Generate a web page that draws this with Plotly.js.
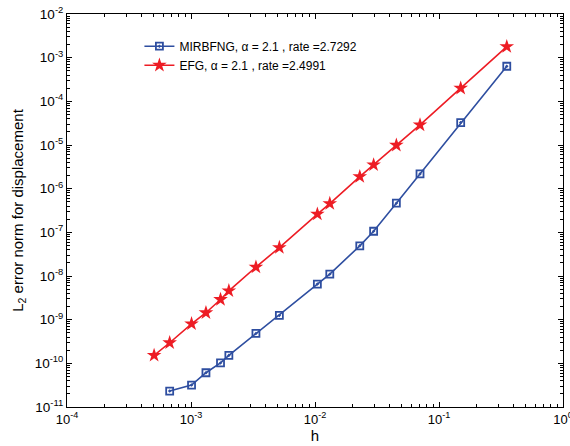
<!DOCTYPE html>
<html>
<head>
<meta charset="utf-8">
<script src="https://cdn.plot.ly/plotly-3.0.1.min.js"></script>
<style>html,body{margin:0;padding:0;background:#fff;}#chart{width:570px;height:446px;}</style>
</head>
<body>
<div id="chart"></div>
<script>
// Data
const hEFG = [5.04e-4, 6.73e-4, 1.01e-3, 1.32e-3, 1.73e-3, 2.02e-3, 3.34e-3, 5.16e-3, 0.01045, 0.01316, 0.02297, 0.0297, 0.0453, 0.0703, 0.1496, 0.352];
const errEFG = [1.52e-10, 2.96e-10, 8.05e-10, 1.44e-9, 2.90e-9, 4.58e-9, 1.60e-8, 4.49e-8, 2.61e-7, 4.56e-7, 1.89e-6, 3.51e-6, 9.89e-6, 2.88e-5, 2.0e-4, 1.79e-3];
const hMIR = [6.73e-4, 1.01e-3, 1.32e-3, 1.73e-3, 2.02e-3, 3.34e-3, 5.16e-3, 0.01045, 0.01316, 0.02297, 0.0297, 0.0453, 0.0703, 0.1496, 0.352];
const errMIR = [2.32e-11, 3.18e-11, 6.09e-11, 1.02e-10, 1.52e-10, 4.83e-10, 1.25e-9, 6.53e-9, 1.10e-8, 4.91e-8, 1.06e-7, 4.66e-7, 2.18e-6, 3.26e-5, 6.36e-4];
const seriesNames = ["MIRBFNG, α = 2.1 , rate =2.7292", "EFG, α = 2.1 , rate =2.4991"];
const xTickVals = [1e-4, 1e-3, 1e-2, 1e-1, 1];
const xTickText = ["10<sup>-4</sup>", "10<sup>-3</sup>", "10<sup>-2</sup>", "10<sup>-1</sup>", "10<sup>0</sup>"];
const yTickVals = [1e-11, 1e-10, 1e-9, 1e-8, 1e-7, 1e-6, 1e-5, 1e-4, 1e-3, 1e-2];
const yTickText = ["10<sup>-11</sup>", "10<sup>-10</sup>", "10<sup>-9</sup>", "10<sup>-8</sup>", "10<sup>-7</sup>", "10<sup>-6</sup>", "10<sup>-5</sup>", "10<sup>-4</sup>", "10<sup>-3</sup>", "10<sup>-2</sup>"];
const xTitle = "h";
const yTitle = "L<sub>2</sub> error norm for displacement";

const blue = "rgb(46,78,160)";
const red = "rgb(237,28,36)";
const font = "Liberation Sans, Arial, sans-serif";

const traces = [
  {
    x: hMIR, y: errMIR, name: seriesNames[0], type: "scatter", mode: "lines+markers",
    line: {color: blue, width: 1.6},
    marker: {symbol: "square-open-dot", size: 7, color: blue, line: {width: 1.8, color: blue}}
  },
  {
    x: hEFG, y: errEFG, name: seriesNames[1], type: "scatter", mode: "lines+markers",
    line: {color: red, width: 1.6},
    marker: {symbol: "star", size: 11, color: red, line: {width: 0}}
  }
];

const axisCommon = {
  type: "log", showgrid: false, zeroline: false,
  showline: true, linecolor: "#000", linewidth: 1, mirror: "allticks",
  ticks: "inside", ticklen: 5, tickcolor: "#000", tickwidth: 1,
  tickmode: "array", ticklabeloverflow: "allow",
  minor: {ticks: "inside", ticklen: 3, tickcolor: "#000", showgrid: false, dtick: "D1"}
};

const layout = {
  width: 570, height: 446,
  margin: {l: 67, r: 7, t: 14, b: 39},
  paper_bgcolor: "#fff", plot_bgcolor: "#fff",
  showlegend: true,
  legend: {
    x: 0.146, y: 0.955, xanchor: "left", yanchor: "top",
    bgcolor: "rgba(0,0,0,0)", borderwidth: 0,
    font: {family: font, size: 12, color: "#000"},
    tracegroupgap: 0
  },
  xaxis: Object.assign({}, axisCommon, {
    range: [-4, 0], tickvals: xTickVals, ticktext: xTickText,
    tickfont: {family: font, size: 13, color: "#000"},
    title: {text: xTitle, standoff: 0, font: {family: font, size: 15, color: "#000"}}
  }),
  yaxis: Object.assign({}, axisCommon, {
    range: [-11, -2], tickvals: yTickVals, ticktext: yTickText,
    tickfont: {family: font, size: 13.5, color: "#000"},
    title: {text: yTitle, standoff: 7, font: {family: font, size: 15, color: "#000"}}
  })
};

Plotly.newPlot("chart", traces, layout, {displayModeBar: false, staticPlot: true});
</script>
</body>
</html>
